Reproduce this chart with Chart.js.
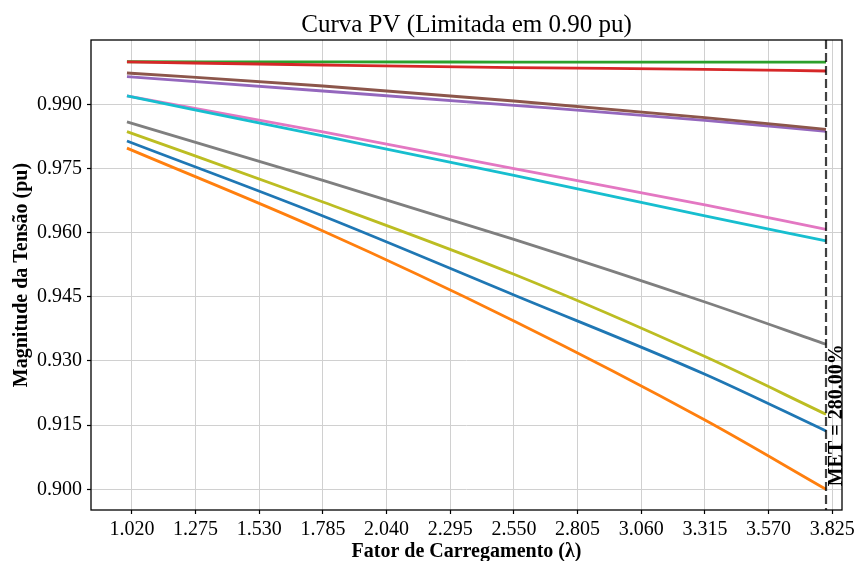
<!DOCTYPE html>
<html><head><meta charset="utf-8">
<script src="https://cdn.jsdelivr.net/npm/chart.js@4"></script>
<style>html,body{margin:0;padding:0;background:#fff}#wrap{width:856px;height:561px}</style>
</head><body><div id="wrap"><canvas id="c" width="856" height="561"></canvas></div>
<script>
// ---- data ----
const lambdaValues = [1.0, 1.785, 2.55, 3.315, 3.8];
const seriesNames = ['Série 1','Série 2','Série 3','Série 4','Série 5','Série 6','Série 7','Série 8','Série 9','Série 10'];
const v1 = [0.98142, 0.96389, 0.94543, 0.92689, 0.91363];
const v2 = [0.97975, 0.96038, 0.93935, 0.91620, 0.90000];
const v3 = [0.99995, 0.99990, 0.99988, 0.99986, 0.99984];
const v4 = [0.99990, 0.99919, 0.99858, 0.99818, 0.99778];
const v5 = [0.99647, 0.99311, 0.98977, 0.98626, 0.98369];
const v6 = [0.99732, 0.99428, 0.99077, 0.98689, 0.98416];
const v7 = [0.99194, 0.98353, 0.97497, 0.96646, 0.96078];
const v8 = [0.98587, 0.97223, 0.95844, 0.94379, 0.93390];
const v9 = [0.98362, 0.96716, 0.95026, 0.93102, 0.91753];
const v10 = [0.99194, 0.98259, 0.97340, 0.96389, 0.95805];
const xTickValues = [1.020, 1.275, 1.530, 1.785, 2.040, 2.295, 2.550, 2.805, 3.060, 3.315, 3.570, 3.825];
const yTickValues = [0.900, 0.915, 0.930, 0.945, 0.960, 0.975, 0.990];
const metLambda = 3.8;
const metLabel = 'MET = 280.00%';
const titleText = 'Curva PV (Limitada em 0.90 pu)';
const xTitle = 'Fator de Carregamento (λ)';
const yTitle = 'Magnitude da Tensão (pu)';

// ---- styles ----
const colors = ['#1f77b4','#ff7f0e','#2ca02c','#d62728','#9467bd','#8c564b','#e377c2','#7f7f7f','#bcbd22','#17becf'];
const allSeries = [v1,v2,v3,v4,v5,v6,v7,v8,v9,v10];
const SERIF = "'Liberation Serif', 'Times New Roman', serif";

const datasets = allSeries.map((vals, i) => ({
  label: seriesNames[i],
  data: lambdaValues.map((x, j) => ({x: x, y: vals[j]})),
  borderColor: colors[i],
  backgroundColor: colors[i],
  borderWidth: 2.8,
  pointRadius: 0,
  cubicInterpolationMode: 'monotone',
  fill: false,
  order: allSeries.length - i
}));

const overlay = {
  id: 'overlay',
  afterDatasetsDraw(chart) {
    const {ctx, chartArea: a, scales} = chart;
    const xs = scales.x, ys = scales.y;
    const px = xs.getPixelForValue(metLambda);
    ctx.save();
    ctx.strokeStyle = 'rgba(0,0,0,0.75)';
    ctx.lineWidth = 2.2;
    ctx.setLineDash([9, 4]);
    ctx.beginPath();
    ctx.moveTo(px, a.top);
    ctx.lineTo(px, a.bottom);
    ctx.stroke();
    ctx.setLineDash([]);
    ctx.strokeStyle = '#000';
    ctx.lineWidth = 1.3;
    ctx.strokeRect(a.left, a.top, a.right - a.left, a.bottom - a.top);
    ctx.fillStyle = '#000';
    ctx.font = 'bold 20px ' + SERIF;
    ctx.textAlign = 'left';
    ctx.textBaseline = 'alphabetic';
    ctx.translate(px + 15.5, ys.getPixelForValue(0.900) - 3);
    ctx.rotate(-Math.PI / 2);
    ctx.fillText(metLabel, 0, 0);
    ctx.restore();
  }
};

new Chart(document.getElementById('c'), {
  type: 'line',
  data: { datasets },
  options: {
    responsive: false,
    animation: false,
    devicePixelRatio: 1,
    layout: { padding: { left: 0, right: 14, top: 0, bottom: 0 } },
    plugins: {
      legend: { display: false },
      tooltip: { enabled: false },
      title: {
        display: true, text: titleText, fullSize: false,
        color: '#000', font: { family: SERIF, size: 25, weight: 'normal', lineHeight: 1.16 },
        padding: { top: 11, bottom: 0 }
      }
    },
    scales: {
      x: {
        type: 'linear', min: 0.856, max: 3.864,
        afterBuildTicks: s => { s.ticks = xTickValues.map(v => ({ value: v })); },
        afterFit: s => { s.height = 51; s.paddingLeft = 0; s.paddingRight = 0; },
        ticks: {
          autoSkip: false, maxRotation: 0, color: '#000', padding: 4,
          font: { family: SERIF, size: 20 },
          callback: v => Number(v).toFixed(3)
        },
        grid: { color: '#d0d0d0', lineWidth: 1, tickColor: '#000', tickLength: 4, tickWidth: 1.2 },
        border: { display: false },
        title: { display: true, text: xTitle, color: '#000', font: { family: SERIF, size: 20, weight: 'bold' }, padding: { top: 0, bottom: -3 } }
      },
      y: {
        type: 'linear', min: 0.89516, max: 1.00503,
        afterBuildTicks: s => { s.ticks = yTickValues.map(v => ({ value: v })); },
        afterFit: s => { s.width = 91; s.paddingTop = 0; s.paddingBottom = 0; },
        ticks: {
          autoSkip: false, color: '#000', padding: 5,
          font: { family: SERIF, size: 20 },
          callback: v => Number(v).toFixed(3)
        },
        grid: { color: '#d0d0d0', lineWidth: 1, tickColor: '#000', tickLength: 4, tickWidth: 1.2 },
        border: { display: false },
        title: { display: true, text: yTitle, color: '#000', font: { family: SERIF, size: 20, weight: 'bold' }, padding: { top: 10, bottom: 0 } }
      }
    }
  },
  plugins: [overlay]
});
</script>
</body></html>
